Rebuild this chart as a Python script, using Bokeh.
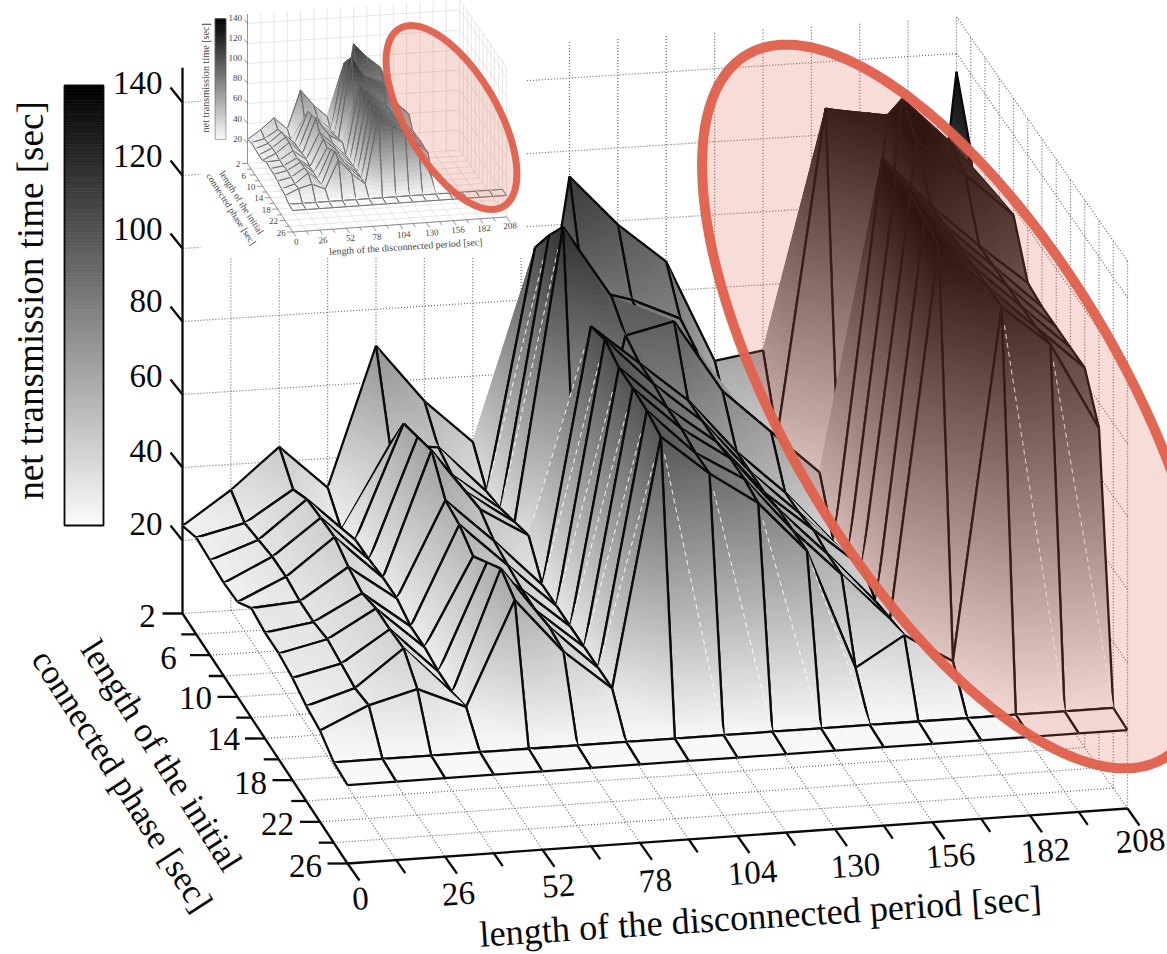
import numpy as np
from bokeh.plotting import figure
from bokeh.models import Range1d
from bokeh.core.properties import value
from bokeh.embed import file_html
from bokeh.resources import INLINE

FONT = "Liberation Serif"
rows = list(range(2, 28, 2))
cols = list(range(0, 221, 13))
row_ticks = [2, 6, 10, 14, 18, 22, 26]
col_ticks = [0, 26, 52, 78, 104, 130, 156, 182, 208]
z_ticks = [20, 40, 60, 80, 100, 120, 140]
x_title = "length of the disconnected period [sec]"
y_title_1 = "length of the initial"
y_title_2 = "connected phase [sec]"
z_title = "net transmission time [sec]"

# net transmission time per column (disconnected period), rows 2..26
z_c00 = [24, 26.5, 26, 25.5, 26, 30, 29, 29, 28, 26, 25, 22, 21.5]
z_c13 = [33, 29.6, 30.7, 31.8, 32, 31, 31, 32, 31, 30, 31, 22, 21.5]
z_c26 = [44, 38, 41, 41.6, 42, 39.5, 38, 39.5, 39.5, 40, 34.5, 22, 21.5]
z_c39 = [32, 26, 29, 29.3, 30, 30, 28, 28, 27, 27, 28.7, 22, 21.5]
z_c52 = [70, 48.5, 60, 62, 64, 56, 55, 52, 56, 60, 57, 22, 21.5]
z_c65 = [54, 47, 45, 46, 47, 44, 43, 42, 42, 43, 42, 22, 21.5]
z_c78 = [42, 34, 35, 37, 39, 31, 31, 31, 31, 31, 31, 22, 21.5]
z_c91 = [30, 100, 109, 117, 36, 101, 103, 101, 101, 100.5, 99, 22, 21.5]
z_c104 = [113, 88, 85, 97, 92, 90, 90, 89, 89, 88, 88, 22, 21.5]
z_c117 = [99, 84, 82, 80, 95, 79, 79, 79, 80, 80, 79, 22, 21.5]
z_c130 = [88, 78, 76, 72, 75, 64, 64, 64, 65, 65, 65, 22, 21.5]
z_c143 = [60, 50, 52, 58, 63, 52, 52, 53, 52, 52, 32, 22, 21.5]
z_c156 = [62, 44, 46, 48, 51, 37.5, 39, 42, 38, 39, 40, 22, 21.5]
z_c169 = [40, 133, 30, 30, 30, 142, 143, 143, 142, 140, 32, 22, 21.5]
z_c182 = [30, 130, 136, 146, 140, 128, 128, 128, 128, 128, 128, 22, 21.5]
z_c195 = [20, 54, 120, 133, 130, 116, 116, 116, 116, 116, 117, 22, 21.5]
z_c208 = [135, 119, 72, 117, 118, 105, 104, 104, 104, 104, 93, 22, 21.5]
Z = np.array([z_c00, z_c13, z_c26, z_c39, z_c52, z_c65, z_c78, z_c91, z_c104,
              z_c117, z_c130, z_c143, z_c156, z_c169, z_c182, z_c195, z_c208], float)

P00, P10, P01, P11 = map(np.array, [(182., 613.), (956., 564.), (347., 863.), (1127., 808.)])
Z_PX = 3.65
Z_TOP = 150


def base(c, r):
    u = c / 208.0
    v = (r - 2) / 24.0
    return (1 - u) * (1 - v) * P00 + u * (1 - v) * P10 + (1 - u) * v * P01 + u * v * P11


def proj(c, r, z):
    b = base(c, r)
    return np.array([b[0], b[1] - z * Z_PX])


def gray(z):
    g = int(round(252 * (1 - min(max((z - 20) / 120.0, 0), 1))))
    return "#%02x%02x%02x" % (g, g, g)


def clip(poly, lo, hi):
    def cut(pts, keep, t):
        out = []
        for i in range(len(pts)):
            a, b = pts[i], pts[(i + 1) % len(pts)]
            ka, kb = keep(a[2]), keep(b[2])
            if ka:
                out.append(a)
            if ka != kb and abs(b[2] - a[2]) > 1e-9:
                s = (t - a[2]) / (b[2] - a[2])
                out.append(a + s * (b - a))
        return out
    p1 = cut(poly, lambda z: z >= lo, lo)
    if len(p1) < 3:
        return []
    return cut(p1, lambda z: z <= hi, hi)


W, H = 1167, 954
p = figure(width=W, height=H, x_range=Range1d(0, W), y_range=Range1d(H, 0),
           x_axis_type=None, y_axis_type=None, toolbar_location=None,
           output_backend="svg", min_border=0, outline_line_color=None)


def ellipse(cx, cy, a, b, deg, lw):
    t = np.linspace(0, 2 * np.pi, 200)
    th = np.radians(deg)
    xs = cx + a * np.cos(t) * np.cos(th) - b * np.sin(t) * np.sin(th)
    ys = cy + a * np.cos(t) * np.sin(th) + b * np.sin(t) * np.cos(th)
    p.patch(list(xs), list(ys), fill_color="#dd5f4c", fill_alpha=0.22,
            line_color="#e0624f", line_width=lw, line_alpha=0.97)


def chart(T, s, lw, grid_color, grid_dash, grid_w, ink, text_color, step, inset):
    fs = 33 * s
    gx, gy = [], []

    def seg(a, b):
        A, B = T(a), T(b)
        gx.append([A[0], B[0]])
        gy.append([A[1], B[1]])
    for c in cols[1:]:
        seg(proj(c, 2, 0), proj(c, 26, 0))
        seg(proj(c, 2, 0), proj(c, 2, Z_TOP))
    for r in rows[1:]:
        seg(proj(0, r, 0), proj(208, r, 0))
        seg(proj(208, r, 0), proj(208, r, Z_TOP))
    for z in z_ticks:
        seg(proj(0, 2, z), proj(208, 2, z))
        seg(proj(208, 2, z), proj(208, 26, z))
    seg(proj(208, 2, Z_TOP), proj(208, 26, Z_TOP))
    seg(proj(0, 2, 0), proj(208, 2, 0))
    p.multi_line(gx, gy, line_color=grid_color, line_width=grid_w, line_dash=grid_dash)

    ax, ay = [], []

    def aseg(a, b):
        A, B = T(a), T(b)
        ax.append([A[0], B[0]])
        ay.append([A[1], B[1]])
    aseg(proj(0, 2, 0), proj(0, 2, 149.5))
    aseg(proj(0, 2, 0), proj(0, 26, 0))
    aseg(proj(0, 26, 0), proj(208, 26, 0))
    for z in z_ticks:
        e = proj(0, 2, z)
        aseg(e, e + np.array([-12, -15]))
    for r in range(2, 28, 2):
        e = proj(0, r, 0)
        aseg(e, e + np.array([-20 if r in row_ticks else -15, 0]))
    for c in range(0, 221, 13):
        e = proj(c, 26, 0)
        d = np.array([12, 17]) if c in col_ticks else np.array([9, 13])
        aseg(e, e + d)
    p.multi_line(ax, ay, line_color=ink, line_width=lw)

    xs, ys, fill, falpha, lcol, lwid, lalpha = [], [], [], [], [], [], []
    levels = np.arange(20, 152.5, step)
    nr, nc = Z.shape[1], Z.shape[0]

    def tri(v1, v2, v3):
        pts = [np.array([*T(proj(cols[c], rows[r], Z[c, r])), Z[c, r]]) for c, r in (v1, v2, v3)]
        zmin = min(q[2] for q in pts)
        zmax = max(q[2] for q in pts)
        for lo in levels:
            hi = lo + step
            if hi < zmin or lo > zmax:
                continue
            poly = clip(pts, lo, hi)
            if len(poly) >= 3:
                col = gray((lo + hi) / 2)
                xs.append([q[0] for q in poly])
                ys.append([q[1] for q in poly])
                fill.append(col)
                falpha.append(1.0)
                lcol.append(col)
                lwid.append(0.9)
                lalpha.append(1.0)

    def edge(v1, v2):
        a = T(proj(cols[v1[0]], rows[v1[1]], Z[v1[0], v1[1]]))
        b = T(proj(cols[v2[0]], rows[v2[1]], Z[v2[0], v2[1]]))
        xs.append([a[0], b[0]])
        ys.append([a[1], b[1]])
        fill.append("#ffffff")
        falpha.append(0.0)
        lcol.append(ink)
        lwid.append(lw)
        lalpha.append(1.0)

    def diag(v1, v2):
        a = np.array(T(proj(cols[v1[0]], rows[v1[1]], Z[v1[0], v1[1]])))
        b = np.array(T(proj(cols[v2[0]], rows[v2[1]], Z[v2[0], v2[1]])))
        length = np.hypot(*(b - a))
        n = int(length // 9)
        for i in range(2, n - 2):
            q0 = a + (b - a) * (i * 9 / length)
            q1 = a + (b - a) * ((i * 9 + 5) / length)
            xs.append([q0[0], q1[0]])
            ys.append([q0[1], q1[1]])
            fill.append("#ffffff")
            falpha.append(0.0)
            lcol.append("#ffffff")
            lwid.append(1.0)
            lalpha.append(0.55)

    for r in range(nr - 1):
        for c in range(nc - 2, -1, -1):
            if inset and c >= 11 and r < 11:
                continue
            tri((c, r), (c + 1, r), (c + 1, r + 1))
            edge((c, r), (c + 1, r))
            edge((c + 1, r), (c + 1, r + 1))
            tri((c, r), (c + 1, r + 1), (c, r + 1))
            if (not inset and abs(Z[c, r] - Z[c + 1, r + 1]) > 40 and r >= 1
                    and (c < 12 or r == 10)):
                diag((c, r), (c + 1, r + 1))
            edge((c, r), (c, r + 1))
            edge((c, r + 1), (c + 1, r + 1))
    p.patches(xs, ys, fill_color=fill, fill_alpha=falpha, line_color=lcol,
              line_width=lwid, line_alpha=lalpha)

    bz = np.arange(20, 140, 1.0)
    bt, bb = [], []
    for z in bz:
        bb.append(T(np.array([64, 525 - (z - 20) / 120 * 440]))[1])
        bt.append(T(np.array([64, 525 - (z + 1 - 20) / 120 * 440]))[1])
    l = T(np.array([64., 85.]))[0]
    rr = T(np.array([103., 85.]))[0]
    cs = [gray(z + 0.5) for z in bz]
    p.quad(left=l, right=rr, top=bt, bottom=bb, fill_color=cs, line_color=cs, line_width=0.8)
    t0, t1 = T(np.array([64., 85.])), T(np.array([103., 525.]))
    p.quad(left=t0[0], right=t1[0], top=t0[1], bottom=t1[1], fill_alpha=0, line_color=ink, line_width=lw * 0.8)

    def txt(x, y, s_, angle=0.0, size=1.0, align="center"):
        A = T(np.array([float(x), float(y)]))
        p.text([A[0]], [A[1]], text=[s_], angle=angle, text_font=value(FONT),
               text_font_size=f"{fs * size:.1f}px", text_color=text_color,
               text_align=align, text_baseline="middle")

    z_pos = [523, 450, 375, 300, 228, 155, 82]
    for z, y in zip(z_ticks, z_pos):
        txt(162, y, str(z), align="right")
    row_pos = [(147, 615), (168, 657), (195, 697), (223, 738), (250, 782), (277, 823), (305, 865)]
    for r, (x, y) in zip(row_ticks, row_pos):
        txt(x, y, str(r))
    col_pos = [(360, 898), (458, 893), (558, 885), (655, 880), (752, 872), (855, 865), (950, 855), (1045, 850), (1140, 840)]
    for c, (x, y) in zip(col_ticks, col_pos):
        txt(x, y, str(c), angle=0.07)
    txt(760, 916, x_title, angle=0.065, size=1.1)
    txt(161, 755, y_title_1, angle=-1.0, size=1.06)
    txt(122, 780, y_title_2, angle=-1.0, size=1.05)
    txt(30, 300, z_title, angle=np.pi / 2, size=1.125)


main_T = lambda a: (float(a[0]), float(a[1]))
S = 0.274
inset_T = lambda a: (247 + S * (float(a[0]) - 182), 163 + S * (float(a[1]) - 613))

chart(main_T, 1.0, 2.3, "#666666", "1 2", 1.2, "#0a0a0a", "#0a0a0a", 1.25, False)
ellipse(955, 406, 409, 167, 59.3, 10)

p.quad(left=200, right=525, top=0, bottom=257, fill_color="#ffffff", line_color=None)
chart(inset_T, S, 0.7, "#dddddd", "solid", 0.7, "#666666", "#444444", 4.0, True)
ellipse(451, 117, 103, 46, 59.7, 7)

open("out.html", "w").write(file_html(p, INLINE))
